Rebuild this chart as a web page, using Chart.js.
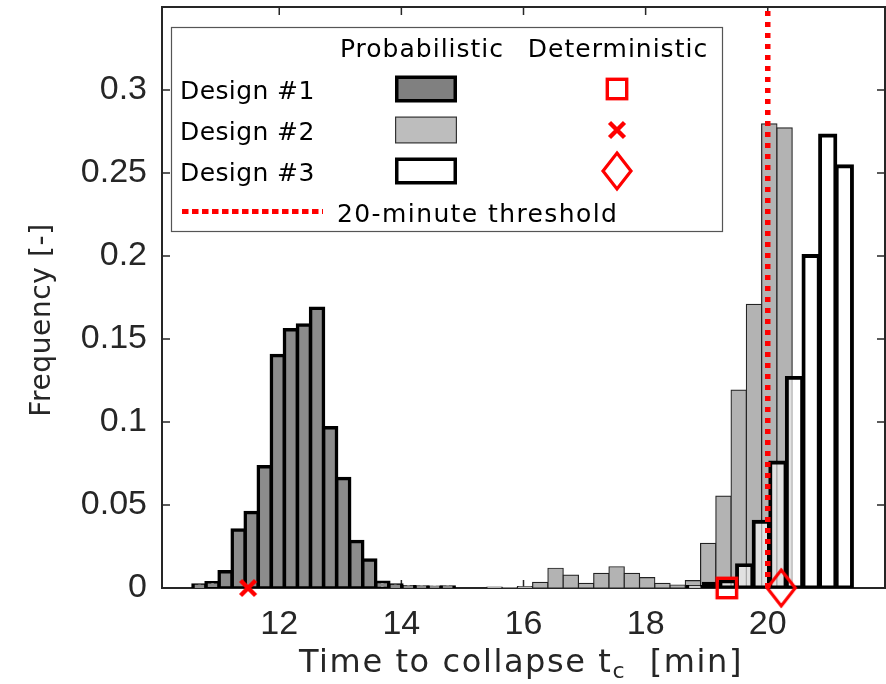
<!DOCTYPE html>
<html>
<head>
<meta charset="utf-8">
<script src="https://cdn.jsdelivr.net/npm/chart.js@4.4.0/dist/chart.umd.min.js"></script>
<style>
  html, body { margin: 0; padding: 0; background: #fff; }
</style>
</head>
<body>
<canvas id="histChart" width="886" height="684"></canvas>
<script>
// Design #1 (probabilistic) - bin centres [min] and frequencies
const design1Bins = [10.694, 10.908, 11.122, 11.336, 11.549, 11.763, 11.977, 12.191, 12.405, 12.619,
                     12.833, 13.047, 13.261, 13.474, 13.688, 13.902, 14.116, 14.330, 14.544, 14.758];
const design1Freq = [0.0018, 0.0032, 0.0098, 0.0350, 0.0455, 0.0730, 0.1400, 0.1555, 0.1585, 0.1685,
                     0.0965, 0.0660, 0.0280, 0.0168, 0.0035, 0.0018, 0.0008, 0.0006, 0.0005, 0.0006];

// Design #2
const design2Bins = [15.525, 15.775, 16.025, 16.275, 16.525, 16.775, 17.025, 17.275, 17.525, 17.775,
                     18.025, 18.275, 18.525, 18.775, 19.025, 19.275, 19.525, 19.775, 20.025, 20.275];
const design2Freq = [0.0005, 0.0002, 0.0008, 0.0034, 0.0119, 0.0078, 0.0028, 0.0088, 0.0128, 0.0088,
                     0.0063, 0.0028, 0.0018, 0.0044, 0.0269, 0.0554, 0.1192, 0.1709, 0.2796, 0.2772];

// Design #3
const design3Bins = [18.806, 19.078, 19.350, 19.622, 19.894, 20.166, 20.438, 20.710, 20.982, 21.254];
const design3Freq = [0.0010, 0.0030, 0.0045, 0.0142, 0.0403, 0.0760, 0.1270, 0.2004, 0.2730, 0.2545];

// deterministic results for design #1, #2, #3
const deterministicTimes = [19.33, 11.49, 20.22];
const threshold = 20;

const designNames = ['Design #1', 'Design #2', 'Design #3'];
const legendHeaders = ['Probabilistic', 'Deterministic'];
const thresholdLabel = '20-minute threshold';

const xRange = [10.08, 21.92];
const xTickValues = [12, 14, 16, 18, 20];
const xTickLabels = ['12', '14', '16', '18', '20'];
const yRange = [0, 0.35];
const yTickValues = [0, 0.05, 0.1, 0.15, 0.2, 0.25, 0.3];
const yTickLabels = ['0', '0.05', '0.1', '0.15', '0.2', '0.25', '0.3'];

const RED = '#ff0000';
const AXIS = '#262626';
const TEXT_FONT = '"DejaVu Sans", sans-serif';
const TICK_FONT = { family: '"Liberation Sans", Arial, sans-serif', size: 34 };

function makeMarker(kind) {
    const c = document.createElement('canvas');
    if (kind === 'square') { c.width = 26; c.height = 26; }
    if (kind === 'cross') { c.width = 24; c.height = 24; }
    if (kind === 'diamond') { c.width = 34; c.height = 42; }
    const g = c.getContext('2d');
    g.strokeStyle = RED;
    if (kind === 'square') {
        g.lineWidth = 3.4;
        g.strokeRect(3.3, 3.3, 19.4, 19.4);
    } else if (kind === 'cross') {
        g.lineWidth = 4.4;
        g.beginPath();
        g.moveTo(4.5, 4.5); g.lineTo(19.5, 19.5);
        g.moveTo(19.5, 4.5); g.lineTo(4.5, 19.5);
        g.stroke();
    } else {
        g.lineWidth = 3.2;
        g.beginPath();
        g.moveTo(17, 3); g.lineTo(31, 21); g.lineTo(17, 39); g.lineTo(3, 21);
        g.closePath();
        g.stroke();
    }
    return c;
}
const markerImages = [makeMarker('square'), makeMarker('cross'), makeMarker('diamond')];

const patchStyles = [
    { fill: '#808080', stroke: '#000', width: 3.5 },
    { fill: '#bdbdbd', stroke: '#333', width: 1.2 },
    { fill: '#ffffff', stroke: '#000', width: 3.5 }
];

function toPoints(xs, ys) {
    return xs.map((x, i) => ({ x: x, y: ys[i] }));
}

// box round the axes and inward tick marks
const axesFrame = {
    id: 'axesFrame',
    beforeDatasetsDraw(chart) {
        const { ctx, chartArea: a, scales } = chart;
        ctx.save();
        ctx.strokeStyle = AXIS;
        ctx.lineWidth = 1.5;
        ctx.beginPath();
        scales.x.ticks.forEach(t => {
            const px = scales.x.getPixelForValue(t.value);
            ctx.moveTo(px, a.bottom); ctx.lineTo(px, a.bottom - 8);
            ctx.moveTo(px, a.top); ctx.lineTo(px, a.top + 8);
        });
        scales.y.ticks.forEach(t => {
            const py = scales.y.getPixelForValue(t.value);
            ctx.moveTo(a.left, py); ctx.lineTo(a.left + 8, py);
            ctx.moveTo(a.right, py); ctx.lineTo(a.right - 8, py);
        });
        ctx.stroke();
        ctx.lineWidth = 2;
        ctx.strokeRect(a.left, a.top, a.right - a.left, a.bottom - a.top);
        ctx.restore();
    }
};

// axis titles (x title has a subscript)
const axisTitles = {
    id: 'axisTitles',
    afterDraw(chart) {
        const ctx = chart.ctx;
        ctx.save();
        ctx.fillStyle = AXIS;
        ctx.textBaseline = 'alphabetic';
        ctx.letterSpacing = '1.6px';
        const big = '32px ' + TEXT_FONT, small = '22px ' + TEXT_FONT;
        const p1 = 'Time to collapse t', p2 = 'c', p3 = '  [min]';
        ctx.font = big; const w1 = ctx.measureText(p1).width; const w3 = ctx.measureText(p3).width;
        ctx.font = small; const w2 = ctx.measureText(p2).width;
        let x = 521 - (w1 + w2 + w3) / 2;
        const base = 672;
        ctx.textAlign = 'left';
        ctx.font = big; ctx.fillText(p1, x, base); x += w1;
        ctx.font = small; ctx.fillText(p2, x, base + 6); x += w2;
        ctx.font = big; ctx.fillText(p3, x, base);

        ctx.letterSpacing = '0.6px';
        ctx.translate(43, 320);
        ctx.rotate(-Math.PI / 2);
        ctx.textAlign = 'center';
        ctx.textBaseline = 'middle';
        ctx.font = '28px ' + TEXT_FONT;
        ctx.fillText('Frequency [-]', 0, 0);
        ctx.restore();
    }
};

// table-style legend drawn in the upper left of the axes
const legendTable = {
    id: 'legendTable',
    afterDraw(chart) {
        const ctx = chart.ctx;
        ctx.save();
        ctx.fillStyle = '#fff';
        ctx.fillRect(171, 27, 552, 205);
        ctx.strokeStyle = '#555';
        ctx.lineWidth = 1.2;
        ctx.strokeRect(171.5, 27.5, 551, 204);

        ctx.font = '25px ' + TEXT_FONT;
        ctx.letterSpacing = '1px';
        ctx.fillStyle = '#000';
        ctx.textBaseline = 'alphabetic';
        ctx.textAlign = 'center';
        ctx.fillText(legendHeaders[0], 422, 57);
        ctx.fillText(legendHeaders[1], 618, 57);

        designNames.forEach((name, i) => {
            const cy = 89 + i * 41;
            ctx.textAlign = 'left';
            ctx.fillStyle = '#000';
            ctx.letterSpacing = '0.4px';
            ctx.fillText(name, 180, cy + 10);
            const p = patchStyles[i];
            const pw = 62 - p.width, ph = 27 - p.width;
            ctx.fillStyle = p.fill;
            ctx.fillRect(426 - pw / 2, cy - ph / 2, pw, ph);
            ctx.strokeStyle = p.stroke;
            ctx.lineWidth = p.width;
            ctx.strokeRect(426 - pw / 2, cy - ph / 2, pw, ph);
            const m = markerImages[i];
            ctx.drawImage(m, 617 - m.width / 2, cy - m.height / 2);
        });

        ctx.strokeStyle = RED;
        ctx.lineWidth = 5;
        ctx.setLineDash([6.5, 3.5]);
        ctx.beginPath();
        ctx.moveTo(182, 211.5);
        ctx.lineTo(323, 211.5);
        ctx.stroke();
        ctx.setLineDash([]);
        ctx.fillStyle = '#000';
        ctx.textAlign = 'left';
        ctx.letterSpacing = '1.4px';
        ctx.fillText(thresholdLabel, 337, 222);
        ctx.restore();
    }
};

const noPadding = s => { s.paddingTop = 0; s.paddingBottom = 0; s.paddingLeft = 0; s.paddingRight = 0; };
const hiddenX = { type: 'linear', min: xRange[0], max: xRange[1], offset: false, display: false };

const barBase = { grouped: false, barPercentage: 1, categoryPercentage: 1, borderSkipped: false };

new Chart(document.getElementById('histChart'), {
    type: 'bar',
    data: {
        datasets: [Object.assign({
            label: designNames[0],
            data: toPoints(design1Bins, design1Freq),
            xAxisID: 'x',
            backgroundColor: '#8c8c8c',
            borderColor: '#000',
            borderWidth: 3.5,
            inflateAmount: 1.75,
            order: 5
        }, barBase), Object.assign({
            label: designNames[1],
            data: toPoints(design2Bins, design2Freq),
            xAxisID: 'x2',
            backgroundColor: '#b3b3b3',
            borderColor: '#222',
            borderWidth: 1.2,
            inflateAmount: 0.6,
            order: 4
        }, barBase), Object.assign({
            // design #3 face (semi-transparent white)
            label: designNames[2],
            data: toPoints(design3Bins, design3Freq),
            xAxisID: 'x3',
            backgroundColor: 'rgba(255,255,255,0.6)',
            borderWidth: 0,
            inflateAmount: 0,
            order: 3
        }, barBase), Object.assign({
            // design #3 edges
            label: designNames[2] + ' edge',
            data: toPoints(design3Bins, design3Freq),
            xAxisID: 'x3',
            backgroundColor: 'rgba(0,0,0,0)',
            borderColor: '#000',
            borderWidth: 1.3,
            inflateAmount: 1.3,
            order: 2
        }, barBase), {
            type: 'line',
            label: thresholdLabel,
            data: [{ x: threshold, y: yRange[0] }, { x: threshold, y: yRange[1] }],
            xAxisID: 'x',
            borderColor: RED,
            borderWidth: 5.5,
            borderDash: [5, 6],
            pointRadius: 0,
            fill: false,
            order: 1
        }, {
            type: 'scatter',
            label: 'Deterministic',
            data: deterministicTimes.map(t => ({ x: t, y: 0 })),
            xAxisID: 'x',
            pointStyle: markerImages,
            pointRadius: 10,
            clip: false,
            order: 0
        }]
    },
    options: {
        responsive: false,
        animation: false,
        layout: { autoPadding: false, padding: { top: 7, right: 1, left: 0, bottom: 0 } },
        plugins: { legend: { display: false }, tooltip: { enabled: false } },
        scales: {
            x: {
                type: 'linear',
                min: xRange[0],
                max: xRange[1],
                offset: false,
                grid: { display: false, drawTicks: false },
                border: { display: false },
                afterBuildTicks: s => { s.ticks = xTickValues.map(v => ({ value: v })); },
                afterFit: s => { s.height = 96; noPadding(s); },
                ticks: {
                    callback: (v, i) => xTickLabels[i],
                    font: TICK_FONT,
                    color: AXIS,
                    padding: 16,
                    maxRotation: 0,
                    autoSkip: false
                }
            },
            x2: hiddenX,
            x3: Object.assign({}, hiddenX),
            y: {
                min: yRange[0],
                max: yRange[1],
                grid: { display: false, drawTicks: false },
                border: { display: false },
                afterBuildTicks: s => { s.ticks = yTickValues.map(v => ({ value: v })); },
                afterFit: s => { s.width = 162; noPadding(s); },
                ticks: {
                    callback: (v, i) => yTickLabels[i],
                    font: TICK_FONT,
                    color: AXIS,
                    padding: 15
                }
            }
        }
    },
    plugins: [axesFrame, axisTitles, legendTable]
});
</script>
</body>
</html>
